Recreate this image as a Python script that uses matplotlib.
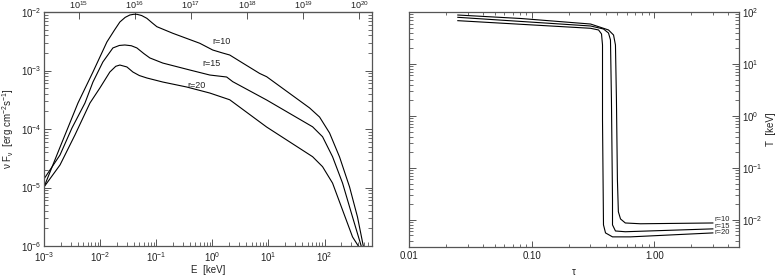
import numpy as np
import matplotlib
matplotlib.use("Agg")
import matplotlib.pyplot as plt
from matplotlib.ticker import LogLocator, NullLocator, NullFormatter, FixedLocator, FuncFormatter

plt.rcParams['font.family'] = ['Liberation Sans', 'DejaVu Sans']
plt.rcParams['mathtext.fontset'] = 'custom'
plt.rcParams['mathtext.rm'] = 'Liberation Sans'
plt.rcParams['mathtext.it'] = 'Liberation Sans:italic'
plt.rcParams['mathtext.default'] = 'regular'

# ---------------- Left panel: nu F_nu spectra ----------------
E_r10 = [0.001, 0.002, 0.00403, 0.00745, 0.0132, 0.0180, 0.0225, 0.0280, 0.0339, 0.0400, 0.0452,
         0.055, 0.068, 0.085, 0.1026, 0.197, 0.597, 1.016, 1.5, 2.04, 3.48, 6.97, 9.29, 54.1,
         81.5, 122.7, 185, 279, 386, 494]
F_r10 = [1.02e-5, 5.32e-5, 2.78e-4, 9.42e-4, 3.07e-3, 4.9e-3, 6.75e-3, 8.1e-3, 8.89e-3, 9.15e-3,
         9.14e-3, 8.7e-3, 7.80e-3, 6.5e-3, 5.61e-3, 4.33e-3, 2.92e-3, 2.24e-3, 2.0e-3, 1.84e-3,
         1.34e-3, 8.9e-4, 7.83e-4, 2.29e-4, 1.60e-4, 8.55e-5, 3.32e-5, 1.02e-5, 3.13e-6, 9.6e-7]

E_r15 = [0.001, 0.00193, 0.00315, 0.00537, 0.00745, 0.0112, 0.0169, 0.0220, 0.0276, 0.036,
         0.0452, 0.0600, 0.0769, 0.131, 0.396, 0.90, 1.80, 2.31, 9.29, 61.2, 92, 138.7, 209, 315, 455]
F_r15 = [1.40e-5, 3.6e-5, 1.04e-4, 2.78e-4, 6.35e-4, 1.40e-3, 2.43e-3, 2.68e-3, 2.73e-3, 2.65e-3,
         2.43e-3, 1.95e-3, 1.64e-3, 1.34e-3, 1.02e-3, 8.37e-4, 7.74e-4, 6.44e-4, 3.13e-4, 1.09e-4,
         7.38e-5, 3.36e-5, 1.19e-5, 3.13e-6, 9.6e-7]

E_r20 = [0.001, 0.00193, 0.00356, 0.00659, 0.0099, 0.0149, 0.0190, 0.0225, 0.030, 0.0384, 0.050,
         0.068, 0.131, 0.35, 0.90, 2.04, 9.29, 61.2, 92, 138.7, 209, 315, 410]
F_r20 = [1.02e-5, 2.43e-5, 7.9e-5, 2.78e-4, 5.02e-4, 9.42e-4, 1.18e-3, 1.24e-3, 1.15e-3, 9.42e-4,
         8.2e-4, 7.45e-4, 6.35e-4, 5.22e-4, 4.12e-4, 3.16e-4, 1.08e-4, 3.36e-5, 2.27e-5, 1.19e-5,
         4.12e-6, 1.43e-6, 9.6e-7]

spec_labels = ["r=10", "r=15", "r=20"]
spec_label_pos = [(1.0, 3.1e-3), (0.67, 1.34e-3), (0.365, 5.65e-4)]

# ---------------- Right panel: temperature profiles ----------------
tau_r10 = [0.025, 0.0815, 0.302, 0.423, 0.465, 0.482, 0.491, 0.50, 0.509, 0.53, 0.58, 0.77, 3.0]
T_r10 = [87.5, 75, 58.7, 45.1, 36.1, 23.2, 2.03, 0.059, 0.0143, 0.0104, 0.0087, 0.0084, 0.0087]

tau_r15 = [0.025, 0.302, 0.385, 0.423, 0.439, 0.447, 0.456, 0.456, 0.482, 0.58, 3.0]
T_r15 = [79, 53.8, 47.1, 39.4, 29.0, 2.03, 0.0243, 0.0080, 0.0061, 0.0059, 0.0067]

tau_r20 = [0.025, 0.302, 0.351, 0.371, 0.378, 0.378, 0.385, 0.40, 0.456, 0.638, 3.0]
T_r20 = [68.1, 48.6, 45.1, 37.8, 23.2, 0.84, 0.0080, 0.0056, 0.0047, 0.0047, 0.0056]

temp_labels = ["r=10", "r=15", "r=20"]
temp_label_pos = [(3.1, 0.0100), (3.1, 0.0073), (3.1, 0.0056)]

W, H = 780, 276
fig = plt.figure(figsize=(W / 100, H / 100), dpi=100)

ax1 = fig.add_axes([44 / W, 1 - 246 / H, 328 / W, 234 / H])
ax2 = fig.add_axes([409 / W, 1 - 247 / H, 330 / W, 235 / H])

line_kw = dict(color='black', lw=0.8)
txt_col = '#222222'
spine_col = '#555555'
TICK_FS = 7

def style_axes(ax):
    for s in ax.spines.values():
        s.set_color(spine_col)
        s.set_linewidth(0.9)
    ax.tick_params(which='major', direction='in', length=5, width=0.7, color=spine_col,
                   labelsize=TICK_FS, labelcolor=txt_col, pad=3)
    ax.tick_params(which='minor', direction='in', length=3, width=0.6, color=spine_col)

# Left panel
for E, F in [(E_r10, F_r10), (E_r15, F_r15), (E_r20, F_r20)]:
    ax1.plot(E, F, **line_kw)
ax1.set_xscale('log')
ax1.set_yscale('log')
ax1.set_xlim(1e-3, 700)
ax1.set_ylim(1e-6, 1e-2)
style_axes(ax1)
ax1.xaxis.set_major_locator(LogLocator(base=10, numticks=20))
ax1.xaxis.set_minor_locator(LogLocator(base=10, subs=np.arange(2, 10), numticks=20))
ax1.yaxis.set_major_locator(LogLocator(base=10, numticks=20))
ax1.yaxis.set_minor_locator(LogLocator(base=10, subs=np.arange(2, 10), numticks=20))
ax1.tick_params(which='both', top=False, right=True, labelright=False)
ax1.tick_params(axis='y', pad=2)
for lab, (x, y) in zip(spec_labels, spec_label_pos):
    ax1.text(x, y, lab, fontsize=6.5, color=txt_col, ha='left', va='center')
ax1.set_xlabel('E  [keV]', fontsize=7, color=txt_col, labelpad=1)
ax1.set_ylabel(r'$\nu$ F$_{\nu}$  [erg cm$^{-2}$s$^{-1}$]', fontsize=7, color=txt_col, labelpad=1)
ax1.yaxis.set_label_coords(-0.085, 0.5)

HZ_PER_KEV = 2.418e17
sec = ax1.secondary_xaxis('top', functions=(lambda e: e * HZ_PER_KEV, lambda n: n / HZ_PER_KEV))
sec.xaxis.set_major_locator(FixedLocator([1e15, 1e16, 1e17, 1e18, 1e19, 1e20]))
sec.xaxis.set_minor_locator(NullLocator())
sec.tick_params(which='major', direction='in', length=5, width=0.7, color=spine_col,
                labelsize=6.5, labelcolor=txt_col, pad=0.5)
sec.spines['top'].set_color(spine_col)

# Right panel
for t, T in [(tau_r10, T_r10), (tau_r15, T_r15), (tau_r20, T_r20)]:
    ax2.plot(t, T, **line_kw)
ax2.set_xscale('log')
ax2.set_yscale('log')
ax2.set_xlim(0.01, 4.9)
ax2.set_ylim(3e-3, 100)
style_axes(ax2)
ax2.xaxis.set_major_locator(FixedLocator([0.01, 0.1, 1.0]))
ax2.xaxis.set_major_formatter(FuncFormatter(lambda v, p: '%.2f' % v))
ax2.xaxis.set_minor_locator(LogLocator(base=10, subs=np.arange(2, 10), numticks=20))
ax2.xaxis.set_minor_formatter(NullFormatter())
ax2.yaxis.set_major_locator(LogLocator(base=10, numticks=20))
ax2.yaxis.set_minor_locator(LogLocator(base=10, subs=np.arange(2, 10), numticks=20))
ax2.tick_params(which='both', top=True, left=True, right=True, labelleft=False, labelright=True)
ax2.tick_params(which='major', axis='x', length=4)
ax2.tick_params(which='minor', axis='x', length=2)
ax2.tick_params(axis='y', pad=2)
ax2.yaxis.set_label_position('right')
for lab, (x, y) in zip(temp_labels, temp_label_pos):
    ax2.text(x, y, lab, fontsize=5.5, color=txt_col, ha='left', va='center')
ax2.set_xlabel(r'$\tau$', fontsize=7, color=txt_col, labelpad=4)
ax2.set_ylabel('T  [keV]', fontsize=7, color=txt_col, labelpad=3)

fig.savefig('out.png', dpi=100)
